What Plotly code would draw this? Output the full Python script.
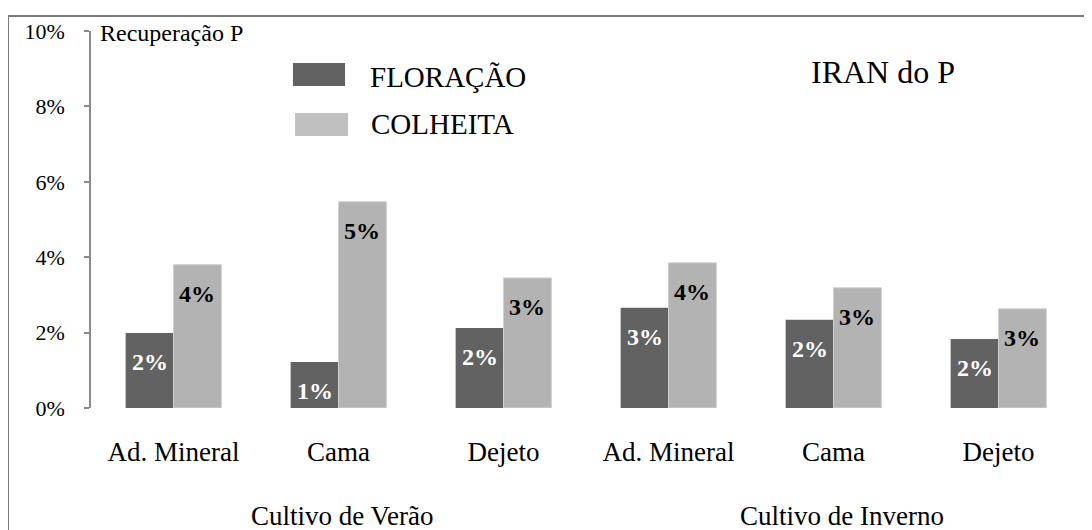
import plotly.graph_objects as go

categories = ["Ad. Mineral", "Cama", "Dejeto", "Ad. Mineral", "Cama", "Dejeto"]
groups = ["Cultivo de Verão", "Cultivo de Inverno"]
floracao = [0.0199, 0.0122, 0.0212, 0.0266, 0.0234, 0.0183]
colheita = [0.0380, 0.0547, 0.0345, 0.0385, 0.0319, 0.0263]
series_names = ["FLORAÇÃO", "COLHEITA"]
y_ticks = [0, 0.02, 0.04, 0.06, 0.08, 0.10]

DARK = "#626262"
LIGHT = "#b3b3b3"
FONT = "Liberation Serif"

xs = list(range(len(categories)))
W = 0.29

fig = go.Figure()
fig.add_trace(go.Bar(x=xs, y=floracao, name=series_names[0], width=W, offset=-W,
                     marker=dict(color=DARK, line=dict(width=0)), showlegend=False))
fig.add_trace(go.Bar(x=xs, y=colheita, name=series_names[1], width=W, offset=0,
                     marker=dict(color=LIGHT, line=dict(color="#cfcfcf", width=1)), showlegend=False))

ann = []
for i, v in enumerate(floracao):
    ann.append(dict(x=i - W / 2, y=v, xref="x", yref="y", text=f"<b>{v*100:.0f}%</b>",
                    showarrow=False, yshift=-29, yanchor="middle",
                    font=dict(family=FONT, size=24, color="white")))
for i, v in enumerate(colheita):
    ann.append(dict(x=i + W / 2, y=v, xref="x", yref="y", text=f"<b>{v*100:.0f}%</b>",
                    showarrow=False, yshift=-29, yanchor="middle",
                    font=dict(family=FONT, size=24, color="black")))

# group labels
ann.append(dict(x=0.2535, y=-0.2865, xref="paper", yref="paper", text=groups[0], showarrow=False,
                xanchor="center", yanchor="middle", font=dict(family=FONT, size=27, color="black")))
ann.append(dict(x=0.7586, y=-0.2865, xref="paper", yref="paper", text=groups[1], showarrow=False,
                xanchor="center", yanchor="middle", font=dict(family=FONT, size=27, color="black")))
# legend texts
ann.append(dict(x=0.2798, y=0.8780, xref="paper", yref="paper", text=series_names[0], showarrow=False,
                xanchor="left", yanchor="middle", font=dict(family=FONT, size=29, color="black")))
ann.append(dict(x=0.2808, y=0.7540, xref="paper", yref="paper", text=series_names[1], showarrow=False,
                xanchor="left", yanchor="middle", font=dict(family=FONT, size=29, color="black")))
# titles
ann.append(dict(x=0.7253, y=0.8900, xref="paper", yref="paper", text="IRAN do P", showarrow=False,
                xanchor="left", yanchor="middle", font=dict(family=FONT, size=32, color="black")))
ann.append(dict(x=0.0071, y=0.996, xref="paper", yref="paper", text="Recuperação P", showarrow=False,
                xanchor="left", yanchor="middle", font=dict(family=FONT, size=24, color="black")))

shapes = [
    dict(type="rect", xref="paper", yref="paper", x0=-0.0838, x1=1.03, y0=-0.36, y1=1.0398,
         line=dict(color="#7a7a7a", width=2), fillcolor="rgba(0,0,0,0)", layer="below"),
    dict(type="rect", xref="paper", yref="paper", x0=0.2040, x1=0.2566, y0=0.8541, y1=0.9151,
         line=dict(width=0), fillcolor=DARK),
    dict(type="rect", xref="paper", yref="paper", x0=0.2061, x1=0.2596, y0=0.7215, y1=0.7825,
         line=dict(width=0), fillcolor="#c0c0c0"),
]

fig.update_layout(
    width=1084, height=522,
    margin=dict(l=83, r=11, t=23, b=122),
    paper_bgcolor="white", plot_bgcolor="white",
    font=dict(family=FONT, color="black"),
    barmode="group",
    annotations=ann, shapes=shapes,
    xaxis=dict(tickmode="array", tickvals=xs, ticktext=categories, range=[-0.5, 5.5],
               showline=False, showgrid=False, zeroline=False, ticks="",
               tickfont=dict(family=FONT, size=27, color="black"), ticklabelstandoff=25),
    yaxis=dict(range=[0, 0.10], tickvals=y_ticks, tickformat=".0%", showgrid=False, zeroline=False,
               showline=True, linecolor="#8a8a8a", linewidth=1.5, ticks="outside", ticklen=5,
               tickcolor="#8a8a8a", tickwidth=1.5,
               tickfont=dict(family=FONT, size=22, color="black"), ticklabelstandoff=15),
)

fig.write_html("out.html")
